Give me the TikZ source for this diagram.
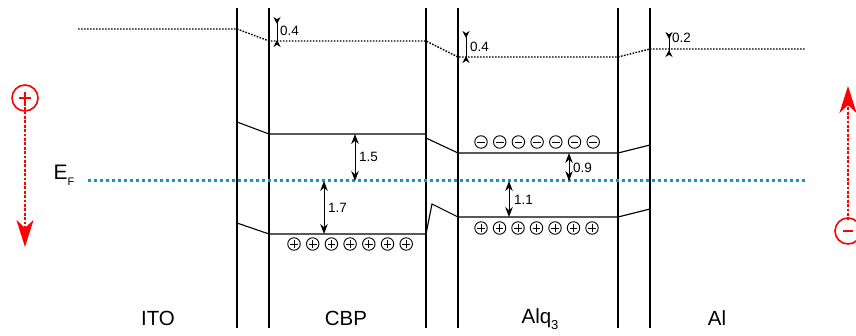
\documentclass[tikz,border=0pt]{standalone}
\usepackage{fontspec}
\setmainfont{Liberation Sans}
\usetikzlibrary{arrows.meta,positioning,calc}
\definecolor{FermiTeal}{HTML}{1A96B4}
\definecolor{ChargeRed}{HTML}{FF0000}
\tikzset{
    % Layer boundary
    boundary/.style={
        line width=1.7pt,
        draw=black
    },
    % Band edge
    bandline/.style={
        line width=1.1pt,
        draw=black
    },
    % Vacuum level
    vacline/.style={
        line width=1.4pt,
        dash pattern=on 1.6pt off 1.4pt
    },
    % Fermi level
    fermiline/.style={
        line width=3pt,
        draw=FermiTeal,
        dash pattern=on 3pt off 3pt
    },
    % Gap arrow
    gaparrow/.style={
        {Stealth[length=10pt,width=7.5pt]}-{Stealth[length=10pt,width=7.5pt]},
        line width=1pt
    },
    % Vacuum offset arrow
    offsetarrow/.style={
        {Stealth[length=7pt,width=7pt,reversed]}-{Stealth[length=7pt,width=7pt,reversed]},
        line width=1pt
    },
    % Value label
    valuelabel/.style={
        anchor=west,
        inner sep=1pt,
        font=\fontsize{13.5}{14}\selectfont
    },
    % Layer name
    layerlabel/.style={
        inner sep=0pt,
        font=\fontsize{20.5}{22}\selectfont
    },
    % Charge in a band
    chargebase/.style={
        circle,
        draw,
        line width=0.9pt,
        minimum size=12.5pt,
        inner sep=0pt
    },
    holenode/.style={
        chargebase,
        path picture={
            \draw[line width=0.9pt] ([xshift=-3.8pt]path picture bounding box.center) -- ([xshift=3.8pt]path picture bounding box.center);
            \draw[line width=0.9pt] ([yshift=-3.8pt]path picture bounding box.center) -- ([yshift=3.8pt]path picture bounding box.center);
        }
    },
    electronnode/.style={
        chargebase,
        path picture={
            \draw[line width=0.9pt] ([xshift=-3.8pt]path picture bounding box.center) -- ([xshift=3.8pt]path picture bounding box.center);
        }
    },
    % Injected carrier
    carriernode/.style={
        circle,
        draw=ChargeRed,
        line width=1.6pt,
        minimum size=26pt,
        inner sep=0pt
    },
    carrierarrow/.style={
        -{Stealth[length=27pt,width=17pt,inset=8pt]},
        draw=ChargeRed,
        fill=ChargeRed,
        line width=2.8pt,
        dash pattern=on 2.8pt off 1.6pt
    }
}
\begin{document}
\begin{tikzpicture}[x=1pt,y=-1pt]
    \useasboundingbox (0,0) rectangle (856,336);

    % layer boundaries
    \foreach \x in {237,269,426,458,618,650}
        \draw[boundary] (\x,8) -- (\x,328);

    % vacuum level
    \coordinate (vacITO) at (78,29);
    \coordinate (vacCBP) at (269,41);
    \coordinate (vacAlq) at (458,57);
    \coordinate (vacAl) at (650,49);
    \draw[vacline] (vacITO) -- (237,29) -- (vacCBP) -- (426,41) -- (vacAlq) -- (618,57) -- (vacAl) -- (805,49);

    % band edges
    \coordinate (cbpL) at (269,134);
    \coordinate (cbpH) at (269,234);
    \coordinate (alqL) at (458,153);
    \coordinate (alqH) at (458,217);
    \draw[bandline] (237,122) -- (cbpL) -- (426,134);
    \draw[bandline] (426,138) -- (alqL) -- (618,153) -- (650,145);
    \draw[bandline] (237,223) -- (cbpH) -- (426,234) -- (432,204) -- (alqH) -- (618,217) -- (650,209);

    % Fermi level
    \coordinate (fermi) at (88,181);
    \draw[fermiline] (fermi) -- (805,181);
    \node (EF) at (64,175) {\fontsize{21}{22}\selectfont E\raisebox{-6pt}{\fontsize{11}{11}\selectfont F}};

    % offsets of the vacuum level
    \draw[offsetarrow] (277,17) -- (277,47);
    \node[valuelabel] (vCBP) at (279,31) {0.4};
    \draw[offsetarrow] (466,31) -- (466,63);
    \node[valuelabel] (vAlq) at (469,47) {0.4};
    \draw[offsetarrow] (669,32) -- (669,57);
    \node[valuelabel] (vAl) at (671,38) {0.2};

    % gaps to the Fermi level
    \draw[gaparrow] (355,0 |- cbpL) -- (355,0 |- fermi);
    \node[valuelabel] (gCBPL) at (358,157) {1.5};
    \draw[gaparrow] (324,0 |- fermi) -- (324,0 |- cbpH);
    \node[valuelabel] (gCBPH) at (327,208) {1.7};
    \draw[gaparrow] (569,0 |- alqL) -- (569,0 |- fermi);
    \node[valuelabel] (gAlqL) at (572,168) {0.9};
    \draw[gaparrow] (509,0 |- fermi) -- (509,0 |- alqH);
    \node[valuelabel] (gAlqH) at (513,200) {1.1};

    % charges in the bands
    \foreach \i in {0,...,6} {
        \node[holenode] (cbph\i) at ({294+18.7*\i},244) {};
        \node[electronnode] (alqe\i) at ({481+18.7*\i},142) {};
        \node[holenode] (alqh\i) at ({481+18.5*\i},228) {};
    }

    % injected carriers
    \node[carriernode] (hin) at (25,98) {};
    \draw[line width=1.5pt, ChargeRed] ([xshift=-6pt]hin.center) -- ([xshift=6pt]hin.center);
    \draw[line width=1.5pt, ChargeRed] ([yshift=-6pt]hin.center) -- ([yshift=6pt]hin.center);
    \draw[carrierarrow] (hin.south) ++(0,-9) coordinate (hstart) -- (25,247) coordinate (hend);
    \node[carriernode] (ein) at (848,231) {};
    \draw[line width=1.5pt, ChargeRed] ([xshift=-5pt]ein.center) -- ([xshift=5pt]ein.center);
    \draw[carrierarrow] (ein.north) ++(0,3) coordinate (estart) -- (848,86) coordinate (eend);

    % layer names
    \node[layerlabel] (ito) at (158,318) {ITO};
    \node[layerlabel] (cbp) at (346,318) {CBP};
    \node[layerlabel] (alq) at (540,319) {Alq\raisebox{-6pt}{\fontsize{13}{13}\selectfont 3}};
    \node[layerlabel] (al) at (717,318) {Al};
\end{tikzpicture}
\end{document}
